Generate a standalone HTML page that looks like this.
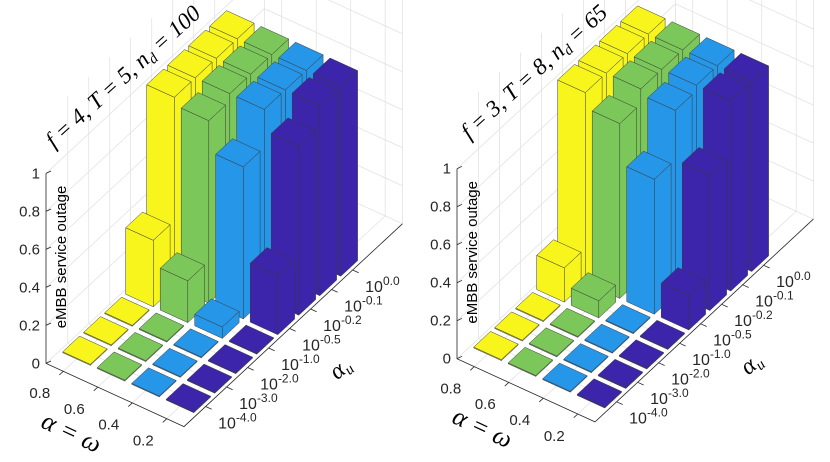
<!DOCTYPE html>
<html><head><meta charset="utf-8"><style>
html,body{margin:0;padding:0;background:#fff;}
svg{display:block;font-family:"Liberation Sans",sans-serif;}
</style></head><body>
<svg id="chart" width="830" height="462" viewBox="0 0 830 462" xmlns="http://www.w3.org/2000/svg"></svg>
<script>
const alphaLabels = ["0.8","0.6","0.4","0.2"];
const auExponents = ["-4.0","-3.0","-2.0","-1.0","-0.5","-0.2","-0.1","0.0"];
const zTicks = [0,0.2,0.4,0.6,0.8,1];
const zTickLabels = ["0","0.2","0.4","0.6","0.8","1"];
const seriesColors = ["#f7f51c","#7cc75a","#2596e8","#3c25aa"];
// left chart: f=4,T=5,nd=100
const leftA08 = [0.005,0.005,0.005,0.35,1,1,1,1];
const leftA06 = [0.005,0.005,0.005,0.22,0.96,1,1,1];
const leftA04 = [0.005,0.005,0.005,0.06,0.8,1,1,1];
const leftA02 = [0.005,0.005,0.005,0.005,0.31,0.89,1,1];
// right chart: f=3,T=8,nd=65
const rightA08 = [0.005,0.005,0.005,0.18,1,1,1,1];
const rightA06 = [0.005,0.005,0.005,0.09,0.92,1,1,1];
const rightA04 = [0.005,0.005,0.005,0.005,0.71,0.97,1,1];
const rightA02 = [0.005,0.005,0.005,0.005,0.18,0.71,1,1];

const NS="http://www.w3.org/2000/svg";
const svg=document.getElementById('chart');
function mk(tag,attrs,parent){const e=document.createElementNS(NS,tag);for(const k in attrs)e.setAttribute(k,attrs[k]);(parent||svg).appendChild(e);return e;}

function drawChart(ox,oy,series,titleParts,name){
  const g=mk('g',{});
  
  
  const P0=[62.7+ox,352.7+oy], A=[34.5,15.8], U=[21,-19.5], ZS=190;
  const pt=(a,u,z)=>[P0[0]+a*A[0]+u*U[0], P0[1]+a*A[1]+u*U[1]-z*ZS];
  const ps=arr=>arr.map(p=>p[0].toFixed(1)+','+p[1].toFixed(1)).join(' ');
  const aMin=-0.1,aMax=3.9,uMin=-0.63,uMax=9.77;
  const grid=mk('g',{stroke:'#e3e3e3','stroke-width':0.8,fill:'none'},g);
  
  
  zTicks.forEach(z=>{
    mk('polyline',{points:ps([pt(aMin,uMin,z),pt(aMin,uMax,z),pt(aMax,uMax,z)])},grid);
  });
  auExponents.forEach((e,j)=>{
    const u=j+0.4;
    mk('polyline',{points:ps([pt(aMax,u,0),pt(aMin,u,0),pt(aMin,u,1.3)])},grid);
  });
  alphaLabels.forEach((l,i)=>{
    const a=i+0.4;
    mk('polyline',{points:ps([pt(a,uMin,0),pt(a,uMax,0),pt(a,uMax,1.3)])},grid);
  });
  mk('line',{x1:pt(aMin,uMax,0)[0],y1:pt(aMin,uMax,0)[1],x2:pt(aMin,uMax,1.3)[0],y2:pt(aMin,uMax,1.3)[1]},grid);
  mk('line',{x1:pt(aMax,uMax,0)[0],y1:pt(aMax,uMax,0)[1],x2:pt(aMax,uMax,1.3)[0],y2:pt(aMax,uMax,1.3)[1]},grid);
  // axes
  const ax=mk('g',{stroke:'#262626','stroke-width':0.8,fill:'none'},g);
  
  
  mk('polyline',{points:ps([pt(aMin,uMin,1),pt(aMin,uMin,0),pt(aMax,uMin,0),pt(aMax,uMax,0)])},ax);
  zTicks.forEach((z,k)=>{
    const p=pt(aMin,uMin,z);
    mk('line',{x1:p[0],y1:p[1],x2:p[0]+5,y2:p[1]-2.4},ax);
    const t=mk('text',{x:p[0]-6,y:p[1]+5,'text-anchor':'end','font-size':15,fill:'#262626',stroke:'none'},g);
    t.textContent=zTickLabels[k];
    
    
  });
  alphaLabels.forEach((l,i)=>{
    const p=pt(i+0.4,uMin,0);
    mk('line',{x1:p[0],y1:p[1],x2:p[0]-4,y2:p[1]+3.7},ax);
    const q=pt(i+0.4,-1.75,0);
    const t=mk('text',{x:q[0],y:q[1]+5,'text-anchor':'middle','font-size':15,fill:'#262626'},g);
    t.textContent=l;
    
    
  });
  auExponents.forEach((e,j)=>{
    const p=pt(aMax,j+0.4,0);
    mk('line',{x1:p[0],y1:p[1],x2:p[0]+6,y2:p[1]+2.7},ax);
    const q=pt(4.9,j+0.4,0);
    const t=mk('text',{x:q[0]-22,y:q[1]+6,'font-size':16,fill:'#262626'},g);
    
    
    const s1=mk('tspan',{},t);s1.textContent='10';
    const s2=mk('tspan',{dy:-7,'font-size':12},t);s2.textContent=e;
  });
  // bars
  const bars=[];
  for(let j=7;j>=0;j--)for(let i=0;i<4;i++)bars.push([i,j]);
  const w=0.8;
  bars.forEach(([i,j])=>{
    const h=series[i][j];
    const a0=i,a1=i+w,u0=j,u1=j+w;
    const bg=mk('g',{fill:seriesColors[i],stroke:'#3a3a3a','stroke-width':0.5,'stroke-linejoin':'round'},g);
    
    
    mk('polygon',{points:ps([pt(a0,u0,0),pt(a1,u0,0),pt(a1,u0,h),pt(a0,u0,h)])},bg);
    mk('polygon',{points:ps([pt(a1,u0,0),pt(a1,u1,0),pt(a1,u1,h),pt(a1,u0,h)])},bg);
    mk('polygon',{points:ps([pt(a0,u0,h),pt(a1,u0,h),pt(a1,u1,h),pt(a0,u1,h)])},bg);
  });
  // labels
  const yl=mk('text',{x:0,y:0,'font-size':15,fill:'#000','text-anchor':'middle',transform:`translate(${66+ox},${257+oy}) rotate(-90)`},g);
  yl.textContent='eMBB service outage';
  
  
  const tt=mk('text',{x:0,y:0,'font-size':23,'font-family':'"Liberation Serif",serif','font-style':'italic','text-anchor':'middle',transform:`translate(${128+ox},${82+oy}) rotate(-42)`},g);
  
  
  tt.innerHTML=titleParts;
  const xl=mk('text',{x:0,y:0,'font-size':26,'font-family':'"Liberation Serif",serif','font-style':'italic','text-anchor':'middle',transform:`translate(${68+ox},${440+oy}) rotate(25)`},g);
  xl.textContent='α = ω';
  
  
  const ul=mk('text',{x:0,y:0,'font-size':24,'font-family':'"Liberation Serif",serif','font-style':'italic','text-anchor':'middle',transform:`translate(${345+ox},${374+oy}) rotate(-40)`},g);
  ul.innerHTML='α<tspan font-size="15" dy="4">u</tspan>';
  
  
}
drawChart(0,0,[leftA08,leftA06,leftA04,leftA02],'f = 4, T = 5, n<tspan font-size="15" dy="4">d</tspan><tspan dy="-4"> = 100</tspan>','left-chart');
drawChart(411,-4.7,[rightA08,rightA06,rightA04,rightA02],'f = 3, T = 8, n<tspan font-size="15" dy="4">d</tspan><tspan dy="-4"> = 65</tspan>','right-chart');
</script>
</body></html>
